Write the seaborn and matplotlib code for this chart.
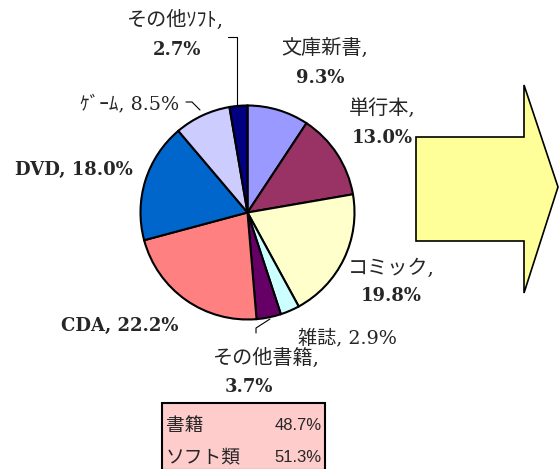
import matplotlib
matplotlib.use("Agg")
import matplotlib.pyplot as plt
import seaborn as sns
from matplotlib.patches import Polygon, Rectangle

categories = ["文庫新書", "単行本", "コミック", "雑誌", "その他書籍", "CDA", "DVD", "ｹﾞｰﾑ", "その他ｿﾌﾄ"]
shares = [9.3, 13.0, 19.8, 2.9, 3.7, 22.2, 18.0, 8.5, 2.7]
colors = ["#9999FF", "#993366", "#FFFFCC", "#CCFFFF", "#660066", "#FF8080", "#0066CC", "#CCCCFF", "#000080"]
summary_labels = ["書籍", "ソフト類"]
summary_values = [48.7, 51.3]

sns.set_theme(style="white")
plt.rcParams['font.family'] = ['DejaVu Serif', 'Noto Sans CJK JP']

W, H = 559, 469
fig = plt.figure(figsize=(W / 100, H / 100), dpi=100)
ax = fig.add_axes([0, 0, 1, 1])


def Y(y):
    return H - y


pal = sns.color_palette(colors)
cx, cy, r = 247.5, 212.5, 107
ax.pie(shares, colors=pal, startangle=90, counterclock=False, center=(cx, Y(cy)), radius=r,
       wedgeprops=dict(edgecolor='black', linewidth=1.5), frame=True)
ax.set_xlim(0, W)
ax.set_ylim(0, H)
ax.set_aspect('equal')
ax.axis('off')

# arrow
arrow = [(416, 137), (524, 137), (524, 85), (558, 187), (524, 293), (524, 241), (416, 241)]
ax.add_patch(Polygon([(x, Y(y)) for x, y in arrow], closed=True, facecolor="#FFFF99",
                     edgecolor="black", linewidth=1.2, zorder=1))

fs = 13
fs_cjk = 14.5
lab_pos = {
    "文庫新書": (325, 48, 320, 78),
    "単行本": (382, 108, 382, 138),
    "コミック": (391, 268, 391, 296),
    "その他書籍": (266, 358, 249, 387),
    "その他ｿﾌﾄ": (175, 20, 177, 50),
}
for cat, val in zip(categories, shares):
    if cat in lab_pos:
        x1, y1, x2, y2 = lab_pos[cat]
        ax.text(x1, Y(y1), f"{cat},", ha='center', va='center', fontsize=fs_cjk)
        ax.text(x2, Y(y2), f"{val:.1f}%", ha='center', va='center', fontsize=fs, fontweight='bold')
single = {"雑誌": (347, 338), "CDA": (120, 326), "DVD": (74, 170), "ｹﾞｰﾑ": (130, 104)}
for cat, val in zip(categories, shares):
    if cat in single:
        x, y = single[cat]
        if cat.isascii():
            ax.text(x, Y(y), f"{cat}, {val:.1f}%", ha='center', va='center', fontsize=fs, fontweight='bold')
        else:
            ax.text(x, Y(y), f"{cat}, {val:.1f}%", ha='center', va='center', fontsize=13.8)

# leader lines
ax.plot([228, 237, 237], [Y(37), Y(37), Y(106)], color='black', lw=0.8)
ax.plot([186, 192, 200], [Y(102), Y(102), Y(110)], color='black', lw=0.8)
ax.plot([256, 256, 270], [Y(333), Y(328), Y(319)], color='black', lw=0.8)

# summary box
ax.add_patch(Rectangle((162, Y(470)), 163, 67, facecolor="#FFCCCC", edgecolor="black", linewidth=1.5))
for i, (lab, v) in enumerate(zip(summary_labels, summary_values)):
    yy = 425 + i * 32
    ax.text(166, Y(yy), lab, ha='left', va='center', fontsize=13.5,
            family=['Noto Sans CJK JP'])
    ax.text(322, Y(yy), f"{v:.1f}%", ha='right', va='center', fontsize=12,
            family=['Liberation Sans'])

fig.savefig("out.png", dpi=100)
